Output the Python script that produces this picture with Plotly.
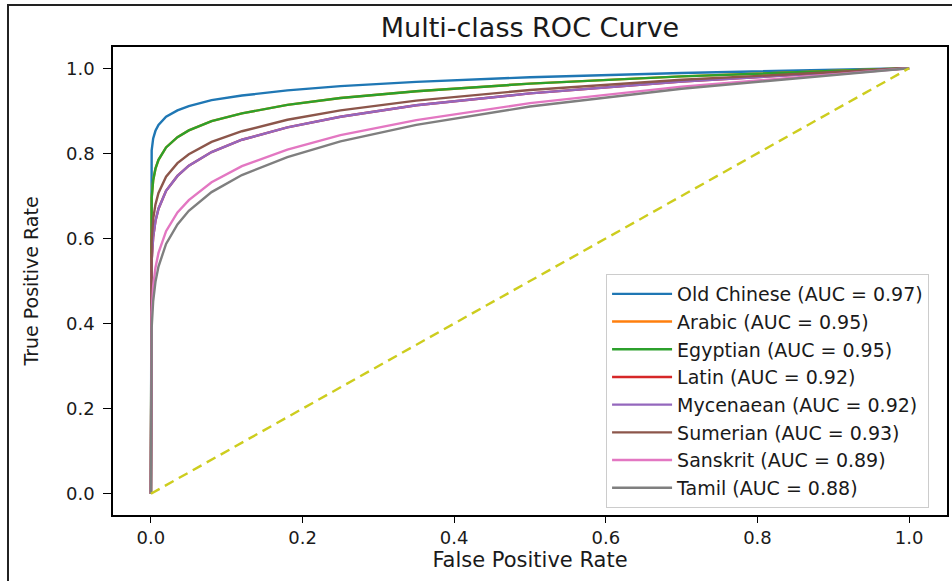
import plotly.graph_objects as go

# ---- data ----
class_names = ["Old Chinese", "Arabic", "Egyptian", "Latin", "Mycenaean", "Sumerian", "Sanskrit", "Tamil"]
auc_values = [0.97, 0.95, 0.95, 0.92, 0.92, 0.93, 0.89, 0.88]

fpr = [0.0, 0.00001, 0.0001, 0.001, 0.003, 0.006, 0.01, 0.02, 0.035, 0.05, 0.08,
       0.12, 0.18, 0.25, 0.35, 0.5, 0.7, 1.0]

tpr_old_chinese = [0.0, 0.700, 0.752, 0.807, 0.835, 0.853, 0.867, 0.886, 0.901, 0.911, 0.925,
                   0.936, 0.948, 0.958, 0.968, 0.979, 0.989, 1.0]
tpr_arabic = [0.0, 0.546, 0.616, 0.695, 0.737, 0.764, 0.785, 0.814, 0.838, 0.854, 0.876,
              0.894, 0.914, 0.930, 0.946, 0.964, 0.981, 1.0]
tpr_egyptian = [0.0, 0.546, 0.616, 0.695, 0.737, 0.764, 0.785, 0.814, 0.838, 0.854, 0.876,
                0.894, 0.914, 0.930, 0.946, 0.964, 0.981, 1.0]
tpr_latin = [0.0, 0.367, 0.449, 0.548, 0.603, 0.641, 0.670, 0.712, 0.747, 0.771, 0.803,
             0.832, 0.861, 0.886, 0.913, 0.941, 0.969, 1.0]
tpr_mycenaean = [0.0, 0.367, 0.449, 0.548, 0.603, 0.641, 0.670, 0.712, 0.747, 0.771, 0.803,
                 0.832, 0.861, 0.886, 0.913, 0.941, 0.969, 1.0]
tpr_sumerian = [0.0, 0.420, 0.500, 0.594, 0.646, 0.680, 0.707, 0.745, 0.777, 0.798, 0.827,
                0.852, 0.879, 0.901, 0.924, 0.949, 0.973, 1.0]
tpr_sanskrit = [0.0, 0.241, 0.320, 0.426, 0.488, 0.531, 0.566, 0.617, 0.661, 0.690, 0.732,
                0.770, 0.809, 0.843, 0.878, 0.918, 0.957, 1.0]
tpr_tamil = [0.0, 0.208, 0.285, 0.390, 0.453, 0.498, 0.534, 0.587, 0.633, 0.665, 0.709,
             0.749, 0.791, 0.828, 0.867, 0.910, 0.952, 1.0]

tpr_all = [tpr_old_chinese, tpr_arabic, tpr_egyptian, tpr_latin, tpr_mycenaean,
           tpr_sumerian, tpr_sanskrit, tpr_tamil]

diag_x = [0.0, 1.0]
diag_y = [0.0, 1.0]

tick_vals = [0.0, 0.2, 0.4, 0.6, 0.8, 1.0]
tick_text = ["0.0", "0.2", "0.4", "0.6", "0.8", "1.0"]

# ---- styles ----
colors = ["#1f77b4", "#ff7f0e", "#2ca02c", "#d62728", "#9467bd", "#8c564b", "#e377c2", "#7f7f7f"]
FONT = "DejaVu Sans"
TXT = "#1a1a1a"

fig = go.Figure()
for name, auc, tpr, col in zip(class_names, auc_values, tpr_all, colors):
    fig.add_trace(go.Scatter(
        x=fpr, y=tpr, mode="lines",
        name=f"{name} (AUC = {auc:.2f})",
        line=dict(color=col, width=2.4),
    ))

fig.add_trace(go.Scatter(
    x=diag_x, y=diag_y, mode="lines", showlegend=False,
    line=dict(color="#cdcd1e", width=2.4, dash="10px,6px"),
))

# outer frame of the picture (left and top edges visible)
fig.add_shape(type="rect", xref="paper", yref="paper",
              x0=-0.1259, x1=1.03, y0=-0.18, y1=1.0897,
              line=dict(color="#222222", width=2), layer="above")

axis_common = dict(
    showgrid=False, zeroline=False, automargin=False,
    showline=True, linecolor="black", linewidth=1.6, mirror=True,
    ticks="outside", tickcolor="black", tickwidth=1.4,
    tickvals=tick_vals, ticktext=tick_text,
    tickfont=dict(family=FONT, size=18, color=TXT),
)

fig.update_layout(
    template="none",
    width=952, height=581,
    paper_bgcolor="white", plot_bgcolor="white",
    margin=dict(l=113, r=5, t=47, b=66, autoexpand=False),
    title=dict(text="Multi-class ROC Curve", x=0.5, xref="paper",
               y=1 - 28 / 581, yanchor="middle",
               font=dict(family=FONT, size=27, color=TXT)),
    xaxis=dict(range=[-0.05, 1.05], ticklen=6,
               title=dict(text="False Positive Rate", standoff=4,
                          font=dict(family=FONT, size=21, color=TXT)),
               **axis_common),
    yaxis=dict(range=[-0.05, 1.05], ticklen=8, ticklabelstandoff=5,
               title=dict(text="True Positive Rate", standoff=22,
                          font=dict(family=FONT, size=19, color=TXT)),
               **axis_common),
    legend=dict(x=0.9785, y=0.015, xanchor="right", yanchor="bottom",
                bgcolor="rgba(255,255,255,0.85)", bordercolor="#cccccc", borderwidth=1,
                font=dict(family=FONT, size=19, color=TXT),
                itemwidth=60, tracegroupgap=0),
    showlegend=True,
)

fig.write_html(
    "out.html",
    config={"responsive": False, "displayModeBar": False},
    post_script="document.body.style.margin='0';document.body.style.overflow='hidden';",
)
